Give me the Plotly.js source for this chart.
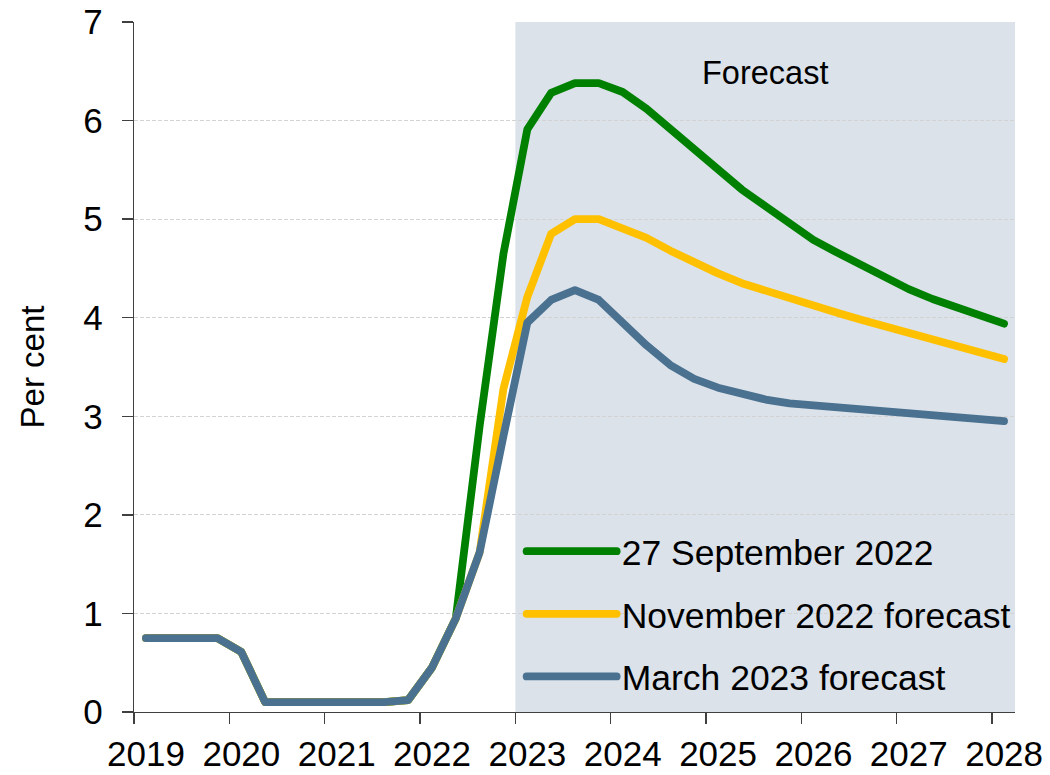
<!DOCTYPE html>
<html>
<head>
<meta charset="utf-8">
<script src="https://cdn.plot.ly/plotly-3.0.1.min.js"></script>
<style>
  html, body { margin: 0; padding: 0; background: #fff; }
  #chart { width: 1050px; height: 775px; }
  .js-line { stroke-linecap: round !important; stroke-linejoin: round !important; }
</style>
</head>
<body>
<div id="chart"></div>
<script>
// Quarters 2019 Q1 .. 2028 Q1
const quarters = [
  '2019 Q1','2019 Q2','2019 Q3','2019 Q4',
  '2020 Q1','2020 Q2','2020 Q3','2020 Q4',
  '2021 Q1','2021 Q2','2021 Q3','2021 Q4',
  '2022 Q1','2022 Q2','2022 Q3','2022 Q4',
  '2023 Q1','2023 Q2','2023 Q3','2023 Q4',
  '2024 Q1','2024 Q2','2024 Q3','2024 Q4',
  '2025 Q1','2025 Q2','2025 Q3','2025 Q4',
  '2026 Q1','2026 Q2','2026 Q3','2026 Q4',
  '2027 Q1','2027 Q2','2027 Q3','2027 Q4',
  '2028 Q1'
];

const sept2022 = [
  0.75, 0.75, 0.75, 0.75,
  0.61, 0.10, 0.10, 0.10,
  0.10, 0.10, 0.10, 0.12,
  0.45, 0.95, 2.90, 4.65,
  5.91, 6.28, 6.38, 6.38,
  6.29, 6.12, 5.92, 5.71,
  5.50, 5.30, 5.13, 4.95,
  4.79, 4.66, 4.53, 4.40,
  4.29, 4.19, 4.10, 4.01,
  3.94
];

const nov2022 = [
  0.75, 0.75, 0.75, 0.75,
  0.61, 0.10, 0.10, 0.10,
  0.10, 0.10, 0.10, 0.12,
  0.45, 0.95, 1.62, 3.28,
  4.21, 4.85, 5.00, 5.00,
  4.91, 4.81, 4.68, 4.56,
  4.45, 4.35, 4.27, 4.19,
  4.12, 4.05, 3.98, 3.91,
  3.85, 3.78, 3.71, 3.64,
  3.58
];

const mar2023 = [
  0.75, 0.75, 0.75, 0.75,
  0.61, 0.10, 0.10, 0.10,
  0.10, 0.10, 0.10, 0.12,
  0.45, 0.95, 1.62, 2.80,
  3.95, 4.18, 4.28, 4.18,
  3.95, 3.72, 3.52, 3.38,
  3.29, 3.22, 3.17, 3.13,
  3.11, 3.09, 3.07, 3.04,
  3.02, 3.00, 2.98, 2.96,
  2.95
];

const seriesNames = ['27 September 2022', 'November 2022 forecast', 'March 2023 forecast'];
const yearTicks = [2019, 2020, 2021, 2022, 2023, 2024, 2025, 2026, 2027, 2028];
const yearLabels = ['2019','2020','2021','2022','2023','2024','2025','2026','2027','2028'];
const yTicks = [0, 1, 2, 3, 4, 5, 6, 7];
const forecastStart = 2023;
const shadeLabel = 'Forecast';

// quarter label -> position on a continuous year axis (middle of the quarter)
function qpos(s) {
  const parts = s.split(' Q');
  return Number(parts[0]) + (Number(parts[1]) - 0.5) / 4;
}
const xq = quarters.map(qpos);

const FONT = 'Liberation Sans, Arial, sans-serif';
const colors = ['#008000', '#FFC000', '#4A7190'];
const xMax = 2028.24;

const traces = [sept2022, nov2022, mar2023].map((ys, i) => ({
  type: 'scatter',
  mode: 'lines',
  x: xq,
  y: ys,
  name: seriesNames[i],
  legendgroup: 'g' + i,
  line: { color: colors[i], width: 7.8 },
  hoverinfo: 'x+y+name'
}));

const layout = {
  width: 1050,
  height: 775,
  margin: { l: 134, r: 35, t: 22, b: 63 },
  paper_bgcolor: '#ffffff',
  plot_bgcolor: '#ffffff',
  font: { family: FONT, color: '#000000', size: 34 },
  showlegend: true,
  legend: {
    x: 0.44, y: 0.276, xanchor: 'left', yanchor: 'top',
    bgcolor: 'rgba(0,0,0,0)',
    borderwidth: 0,
    font: { family: FONT, size: 35.5, color: '#000000' },
    itemwidth: 90,
    traceorder: 'grouped',
    tracegroupgap: 13.5
  },
  xaxis: {
    range: [2019, xMax],
    tickmode: 'array',
    tickvals: yearTicks,
    ticktext: yearLabels,
    ticks: 'outside',
    ticklen: 11,
    tickwidth: 1.3,
    tickcolor: '#404040',
    ticklabelshift: 12,
    ticklabelstandoff: 0,
    tickfont: { family: FONT, size: 35, color: '#000000' },
    showline: true,
    linecolor: '#404040',
    linewidth: 1.3,
    showgrid: false,
    zeroline: false,
    fixedrange: true
  },
  yaxis: {
    range: [0, 7],
    tickmode: 'array',
    tickvals: yTicks,
    ticks: 'outside',
    ticklen: 11,
    tickwidth: 1.3,
    tickcolor: '#404040',
    ticklabelstandoff: 12,
    tickfont: { family: FONT, size: 35, color: '#000000' },
    showline: true,
    linecolor: '#404040',
    linewidth: 1.3,
    showgrid: true,
    gridcolor: '#D3D3D3',
    gridwidth: 1,
    griddash: '4px,2px',
    zeroline: false,
    title: { text: 'Per cent', font: { family: FONT, size: 33, color: '#000000' }, standoff: 28 },
    fixedrange: true
  },
  shapes: [{
    type: 'rect', layer: 'below',
    xref: 'x', yref: 'y',
    x0: forecastStart, x1: xMax, y0: 0, y1: 7,
    fillcolor: '#DBE2EA', line: { width: 0 }
  }],
  annotations: [{
    xref: 'x', yref: 'y',
    x: (forecastStart + xMax) / 2, y: 6.48,
    text: shadeLabel, showarrow: false,
    xanchor: 'center', yanchor: 'middle',
    font: { family: FONT, size: 32.5, color: '#000000' }
  }]
};

Plotly.newPlot('chart', traces, layout, { displayModeBar: false, staticPlot: true });
</script>
</body>
</html>
